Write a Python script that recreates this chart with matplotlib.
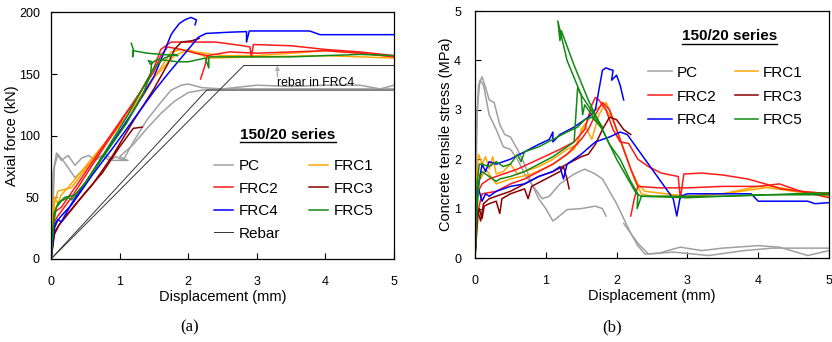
import matplotlib
matplotlib.use('Agg')
import matplotlib.pyplot as plt

plt.rcParams['font.family'] = ['Liberation Sans', 'DejaVu Sans']

# ---- (a) axial force vs displacement, two specimens per series ----
pc_f1 = [(0, 0), (0.03, 70), (0.08, 86), (0.15, 80), (0.25, 84), (0.35, 76), (0.45, 82), (0.55, 84),
         (0.65, 80), (0.75, 84), (0.85, 80), (0.95, 83), (1.05, 80), (1.2, 95), (1.4, 113), (1.6, 127),
         (1.75, 137), (1.9, 141), (2.0, 142), (2.2, 139), (2.5, 138), (3.0, 141), (3.5, 140), (4.0, 141),
         (4.5, 141), (4.8, 138), (5.0, 141)]
pc_f2 = [(0, 0), (0.05, 75), (0.1, 85), (0.2, 78), (0.35, 66), (0.5, 74), (0.65, 82), (0.8, 85),
         (0.9, 80), (1.12, 80), (1.0, 83), (1.2, 93), (1.4, 106), (1.6, 118), (1.8, 128), (2.0, 135),
         (2.2, 137), (2.5, 138), (3.0, 138), (4.0, 138), (5.0, 138)]
frc1_f1 = [(0, 0), (0.03, 40), (0.05, 50), (0.1, 45), (0.15, 52), (0.25, 58), (0.5, 75), (0.8, 95),
           (1.1, 115), (1.4, 140), (1.6, 155), (1.75, 168), (1.9, 170), (2.1, 168), (2.5, 165), (3.0, 165),
           (3.5, 167), (4.0, 169), (4.5, 167), (5.0, 164)]
frc1_f2 = [(0, 0), (0.05, 45), (0.1, 55), (0.3, 58), (0.6, 80), (1.0, 108), (1.35, 133), (1.5, 147),
           (1.65, 156), (1.8, 165), (2.0, 170), (2.3, 163), (3.0, 164), (4.0, 165), (5.0, 163)]
frc2_f1 = [(0, 0), (0.05, 30), (0.1, 35), (0.3, 50), (0.6, 76), (1.0, 110), (1.3, 135), (1.5, 155),
           (1.6, 170), (1.75, 176), (2.0, 176), (2.4, 176), (2.8, 173), (2.9, 172), (2.92, 164),
           (2.95, 174), (3.5, 173), (4.0, 170), (4.5, 168), (5.0, 165)]
frc2_f2 = [(0, 0), (0.05, 38), (0.15, 42), (0.4, 62), (0.8, 95), (1.2, 127), (1.5, 152), (1.6, 165),
           (1.7, 172), (1.9, 170), (2.1, 167), (2.28, 165), (2.25, 158), (2.18, 146)]
frc2_f3 = [(2.28, 165), (2.6, 168), (3.0, 167), (3.5, 168), (4.0, 169), (4.5, 167), (5.0, 164)]
frc3_f1 = [(0, 0), (0.05, 20), (0.12, 28), (0.3, 40), (0.5, 54), (0.75, 70), (1.0, 91), (1.2, 106),
           (1.33, 107)]
frc3_f2 = [(0, 0), (0.05, 22), (0.15, 30), (0.35, 44), (0.6, 60), (0.9, 84), (1.2, 112), (1.5, 138),
           (1.7, 158), (1.8, 170), (1.9, 176), (2.05, 177), (2.16, 179)]
frc4_f1 = [(0, 0), (0.05, 25), (0.1, 32), (0.15, 30), (0.3, 45), (0.6, 70), (0.9, 95), (1.2, 120),
           (1.5, 148), (1.65, 168), (1.75, 182), (1.8, 186), (1.87, 191), (1.95, 194), (2.04, 196),
           (2.12, 194), (2.1, 190)]
frc4_f2 = [(0, 0), (0.05, 28), (0.15, 35), (0.3, 44), (0.6, 68), (0.9, 90), (1.2, 113), (1.5, 136),
           (1.7, 150), (1.85, 160), (2.0, 170), (2.15, 180), (2.26, 183), (2.6, 184), (2.85, 184.5),
           (2.85, 176), (2.89, 185), (3.5, 185), (3.77, 185), (3.92, 182), (4.5, 182), (5.0, 182)]
frc5_f1 = [(0, 0), (0.04, 30), (0.08, 42), (0.15, 47), (0.25, 50), (0.3, 48), (0.5, 62), (0.8, 88),
           (1.1, 115), (1.35, 140), (1.5, 155), (1.65, 163), (1.8, 166), (1.85, 165), (1.6, 166),
           (1.4, 167), (1.2, 169), (1.19, 164), (1.2, 170), (1.17, 175)]
frc5_f2 = [(0, 0), (0.05, 38), (0.1, 45), (0.2, 50), (0.35, 52), (0.5, 62), (0.8, 86), (1.1, 110),
           (1.35, 135), (1.45, 150), (1.47, 160), (1.42, 161), (1.45, 158), (1.55, 162), (1.85, 160),
           (2.0, 160), (2.25, 163), (2.3, 155), (2.3, 164), (2.6, 164), (3.0, 164), (3.5, 164),
           (4.0, 165), (4.5, 166), (5.0, 165)]
rebar_f1 = [(0, 0), (2.81, 157), (5.0, 157)]
rebar_f2 = [(0, 0), (2.27, 137), (5.0, 137)]

# ---- (b) concrete tensile stress vs displacement ----
pc_s1 = [(0, 0), (0.02, 2.5), (0.05, 3.5), (0.1, 3.67), (0.15, 3.45), (0.2, 3.2), (0.27, 3.15),
         (0.35, 2.7), (0.42, 2.5), (0.5, 2.45), (0.6, 2.2), (0.7, 1.9), (0.8, 1.5), (0.9, 1.2),
         (1.0, 1.0), (1.1, 0.75), (1.15, 0.8), (1.3, 0.98), (1.5, 1.0), (1.7, 1.05), (1.8, 1.0),
         (1.85, 0.85)]
pc_s2 = [(0, 0), (0.03, 3.0), (0.07, 3.6), (0.12, 3.5), (0.2, 2.9), (0.3, 2.6), (0.4, 2.25),
         (0.5, 2.2), (0.6, 2.0), (0.7, 1.7), (0.85, 1.4), (0.95, 1.2), (1.05, 1.25), (1.2, 1.5),
         (1.4, 1.7), (1.55, 1.8), (1.7, 1.7), (1.8, 1.6), (1.9, 1.35), (2.0, 1.1), (2.1, 0.8),
         (2.2, 0.5), (2.3, 0.25), (2.4, 0.08), (2.6, 0.1), (2.9, 0.22), (3.2, 0.15), (3.5, 0.2),
         (4.0, 0.25), (4.3, 0.22), (4.7, 0.05), (5.0, 0.15)]
pc_s3 = [(2.1, 0.7), (2.3, 0.3), (2.45, 0.08), (2.8, 0.12), (3.3, 0.05), (3.8, 0.15), (4.2, 0.2),
         (4.6, 0.2), (5.0, 0.2)]
frc1_s1 = [(0, 0), (0.02, 1.5), (0.05, 2.1), (0.1, 1.9), (0.15, 2.05), (0.2, 1.8), (0.25, 2.05),
           (0.3, 1.7), (0.4, 1.75), (0.5, 1.9), (0.6, 1.7), (0.7, 1.75), (0.9, 1.85), (1.1, 2.0),
           (1.3, 2.2), (1.45, 2.3), (1.5, 2.6), (1.6, 2.8), (1.7, 3.0), (1.8, 3.1), (1.85, 3.0),
           (1.95, 2.8), (2.05, 2.4), (2.15, 2.0), (2.25, 1.6), (2.35, 1.3), (2.5, 1.25), (3.0, 1.25),
           (3.5, 1.3), (4.0, 1.45), (4.5, 1.35), (5.0, 1.25)]
frc1_s2 = [(0, 0), (0.03, 1.8), (0.08, 1.6), (0.15, 1.8), (0.3, 1.5), (0.5, 1.6), (0.8, 1.7),
           (1.1, 1.9), (1.4, 2.2), (1.55, 2.7), (1.65, 2.4), (1.75, 2.9), (1.85, 3.15), (1.9, 3.0),
           (2.0, 2.6), (2.1, 2.2), (2.2, 1.8), (2.3, 1.5), (2.4, 1.35), (2.7, 1.3), (3.0, 1.25),
           (3.5, 1.3), (4.0, 1.4), (4.2, 1.45), (4.6, 1.35), (5.0, 1.3)]
frc2_s1 = [(0, 0), (0.03, 1.3), (0.1, 1.5), (0.2, 1.6), (0.4, 1.7), (0.6, 1.8), (0.9, 2.0),
           (1.2, 2.2), (1.4, 2.35), (1.55, 2.6), (1.65, 3.1), (1.7, 3.25), (1.75, 3.2), (1.85, 3.0),
           (1.95, 2.6), (2.05, 2.35), (2.17, 2.32), (2.3, 2.0), (2.45, 1.85), (2.63, 1.72),
           (2.87, 1.65), (2.9, 1.2), (2.95, 1.7), (3.2, 1.72), (3.5, 1.68), (3.85, 1.6), (4.1, 1.5),
           (4.32, 1.4), (4.6, 1.35), (5.0, 1.3)]
frc2_s2 = [(0, 0), (0.05, 1.0), (0.1, 1.3), (0.3, 1.35), (0.5, 1.5), (0.7, 1.6), (0.9, 1.75),
           (1.1, 1.9), (1.3, 2.1), (1.5, 2.4), (1.6, 2.6), (1.7, 2.9), (1.8, 3.15), (1.9, 3.0),
           (2.0, 2.6), (2.1, 2.2), (2.2, 1.8), (2.3, 1.45), (2.25, 1.2), (2.2, 0.85)]
frc2_s3 = [(2.3, 1.45), (2.6, 1.42), (3.0, 1.42), (3.5, 1.45), (4.0, 1.45), (4.3, 1.5), (4.6, 1.35),
           (5.0, 1.22)]
frc3_s1 = [(0, 0), (0.03, 0.8), (0.06, 1.0), (0.1, 0.8), (0.13, 1.05), (0.2, 1.1), (0.3, 1.15),
           (0.35, 0.9), (0.38, 1.2), (0.5, 1.3), (0.7, 1.4), (0.75, 1.2), (0.8, 1.45), (1.0, 1.6),
           (1.2, 1.75), (1.25, 1.85), (1.3, 1.6), (1.33, 1.4)]
frc3_s2 = [(0, 0), (0.03, 1.0), (0.08, 0.75), (0.12, 1.1), (0.2, 1.2), (0.3, 1.25), (0.5, 1.35),
           (0.7, 1.5), (0.9, 1.65), (1.1, 1.75), (1.3, 1.9), (1.5, 2.05), (1.6, 2.1), (1.7, 2.3),
           (1.8, 2.6), (1.9, 2.85), (2.0, 2.8), (2.1, 2.6), (2.2, 2.5)]
frc4_s1 = [(0, 0), (0.02, 1.2), (0.05, 1.4), (0.1, 1.15), (0.15, 1.3), (0.2, 1.25), (0.3, 1.35),
           (0.5, 1.45), (0.7, 1.5), (0.9, 1.65), (1.1, 1.75), (1.2, 1.85), (1.25, 1.6), (1.3, 1.9),
           (1.5, 2.1), (1.7, 2.35), (1.9, 2.45), (2.05, 2.55), (2.15, 2.5), (2.3, 2.2), (2.5, 1.8),
           (2.7, 1.4), (2.8, 1.2), (2.85, 0.85), (2.9, 1.25), (3.0, 1.3), (3.5, 1.3), (3.9, 1.3),
           (4.0, 1.15), (4.3, 1.15), (4.7, 1.15), (4.8, 1.1), (5.0, 1.12)]
frc4_s2 = [(0, 0), (0.03, 1.3), (0.1, 1.9), (0.15, 1.75), (0.2, 1.95), (0.3, 1.9), (0.5, 2.0),
           (0.7, 2.15), (0.9, 2.3), (1.05, 2.4), (1.1, 2.55), (1.1, 2.35), (1.2, 2.5), (1.4, 2.65),
           (1.6, 2.85), (1.7, 3.0), (1.75, 3.4), (1.8, 3.8), (1.85, 3.85), (1.9, 3.82), (1.95, 3.8),
           (1.93, 3.6), (2.0, 3.7), (2.05, 3.5), (2.1, 3.2)]
frc5_s1 = [(0, 0), (0.03, 1.5), (0.06, 1.9), (0.1, 1.9), (0.2, 1.85), (0.3, 1.95), (0.4, 1.85),
           (0.5, 1.9), (0.6, 2.1), (0.65, 1.95), (0.7, 2.15), (0.9, 2.25), (1.1, 2.4), (1.3, 2.55),
           (1.45, 2.65), (1.55, 2.8), (1.65, 2.85), (1.75, 2.7), (1.8, 2.65), (1.5, 3.3), (1.3, 4.0),
           (1.17, 4.8), (1.2, 4.4), (1.22, 4.6), (1.4, 3.9), (1.6, 3.2), (1.8, 2.6), (2.0, 2.0),
           (2.2, 1.5), (2.28, 1.3), (2.35, 1.25), (3.0, 1.22), (3.5, 1.25), (4.0, 1.28), (4.5, 1.28),
           (5.0, 1.28)]
frc5_s2 = [(0, 0), (0.03, 1.0), (0.06, 1.6), (0.1, 1.75), (0.2, 1.65), (0.3, 1.55), (0.35, 1.6),
           (0.5, 1.65), (0.7, 1.75), (0.9, 1.9), (1.1, 2.05), (1.3, 2.25), (1.4, 2.35), (1.45, 3.45),
           (1.5, 3.3), (1.52, 2.9), (1.55, 3.1), (1.7, 2.8), (1.8, 2.6), (1.9, 2.3), (2.05, 2.0),
           (2.2, 1.55), (2.3, 1.3), (2.29, 1.0), (2.35, 1.25), (2.6, 1.25), (3.0, 1.25), (3.5, 1.25),
           (4.0, 1.27), (4.5, 1.3), (5.0, 1.32)]

colors = {'PC': '#a0a0a0', 'FRC1': '#ffa500', 'FRC2': '#ff1a1a', 'FRC3': '#8b0000',
          'FRC4': '#0000ff', 'FRC5': '#138a13', 'Rebar': '#333333'}

force_curves = {'PC': [pc_f1, pc_f2], 'FRC1': [frc1_f1, frc1_f2], 'FRC2': [frc2_f1, frc2_f2, frc2_f3],
                'FRC3': [frc3_f1, frc3_f2], 'FRC4': [frc4_f1, frc4_f2], 'FRC5': [frc5_f1, frc5_f2],
                'Rebar': [rebar_f1, rebar_f2]}
stress_curves = {'PC': [pc_s1, pc_s2, pc_s3], 'FRC1': [frc1_s1, frc1_s2],
                 'FRC2': [frc2_s1, frc2_s2, frc2_s3], 'FRC3': [frc3_s1, frc3_s2],
                 'FRC4': [frc4_s1, frc4_s2], 'FRC5': [frc5_s1, frc5_s2]}

fig = plt.figure(figsize=(8.32, 3.42), dpi=100)
ax1 = fig.add_axes([0.0613, 0.2427, 0.4123, 0.7208])
ax2 = fig.add_axes([0.5709, 0.2456, 0.4255, 0.7222])


def draw(ax, curves):
    handles = {}
    for name, pieces in curves.items():
        for pts in pieces:
            xs = [p[0] for p in pts]
            ys = [p[1] for p in pts]
            lw = 0.7 if name == 'Rebar' else 1.1
            ln, = ax.plot(xs, ys, color=colors[name], lw=lw)
        handles[name] = ln
    return handles


h1 = draw(ax1, force_curves)
h2 = draw(ax2, stress_curves)

for ax in (ax1, ax2):
    ax.set_xlim(0, 5)
    ax.set_xticks(range(6))
    ax.tick_params(direction='in', length=4, width=0.8, labelsize=9)
    ax.tick_params(axis='x', pad=12)
    ax.set_xlabel('Displacement (mm)', fontsize=10.5, labelpad=2)
    for s in ax.spines.values():
        s.set_linewidth(0.9)

ax1.tick_params(axis='y', pad=8)
ax2.tick_params(axis='y', pad=10)

ax1.set_ylim(0, 200)
ax1.set_yticks([0, 50, 100, 150, 200])
ax1.set_ylabel('Axial force (kN)', fontsize=10.5, labelpad=0)
ax2.set_ylim(0, 5)
ax2.set_yticks([0, 1, 2, 3, 4, 5])
ax2.set_ylabel('Concrete tensile stress (MPa)', fontsize=10.5, labelpad=1)

ax1.annotate('', xy=(3.3, 157), xytext=(3.3, 148),
             arrowprops=dict(arrowstyle='-|>', color='#b0b0b0', lw=1.0, mutation_scale=6,
                             shrinkA=0, shrinkB=0))
ax1.text(3.3, 143, 'rebar in FRC4', fontsize=8.8, va='center', ha='left')

order1 = ['PC', 'FRC2', 'FRC4', 'Rebar', 'FRC1', 'FRC3', 'FRC5']
ax1.legend([h1[k] for k in order1], order1, ncol=2, frameon=False, fontsize=11,
           loc='upper left', bbox_to_anchor=(0.475, 0.405), borderpad=0, borderaxespad=0,
           handlelength=1.25, handletextpad=0.35, columnspacing=1.9, labelspacing=0.56)
order2 = ['PC', 'FRC2', 'FRC4', 'FRC1', 'FRC3', 'FRC5']
ax2.legend([h2[k] for k in order2], order2, ncol=2, frameon=False, fontsize=11,
           loc='upper left', bbox_to_anchor=(0.49, 0.778), borderpad=0, borderaxespad=0,
           handlelength=1.55, handletextpad=0.3, columnspacing=1.2, labelspacing=0.64)

titles = [(ax1, 0.691, 0.505), (ax2, 0.718, 0.898)]
fig.canvas.draw()
r = fig.canvas.get_renderer()
for ax, tx, ty in titles:
    t = ax.text(tx, ty, '150/20 series', transform=ax.transAxes, fontsize=11, fontweight='bold',
                ha='center', va='center')
    bb = t.get_window_extent(r).transformed(ax.transAxes.inverted())
    ax.plot([bb.x0, bb.x1], [bb.y0 - 0.003, bb.y0 - 0.003], transform=ax.transAxes, color='black',
            lw=1.0, clip_on=False)

fig.text(190 / 832, 1 - 327 / 342, '(a)', fontsize=12, family='Liberation Serif', ha='center', va='center')
fig.text(612 / 832, 1 - 327 / 342, '(b)', fontsize=12, family='Liberation Serif', ha='center', va='center')

fig.savefig('out.png', dpi=100)
